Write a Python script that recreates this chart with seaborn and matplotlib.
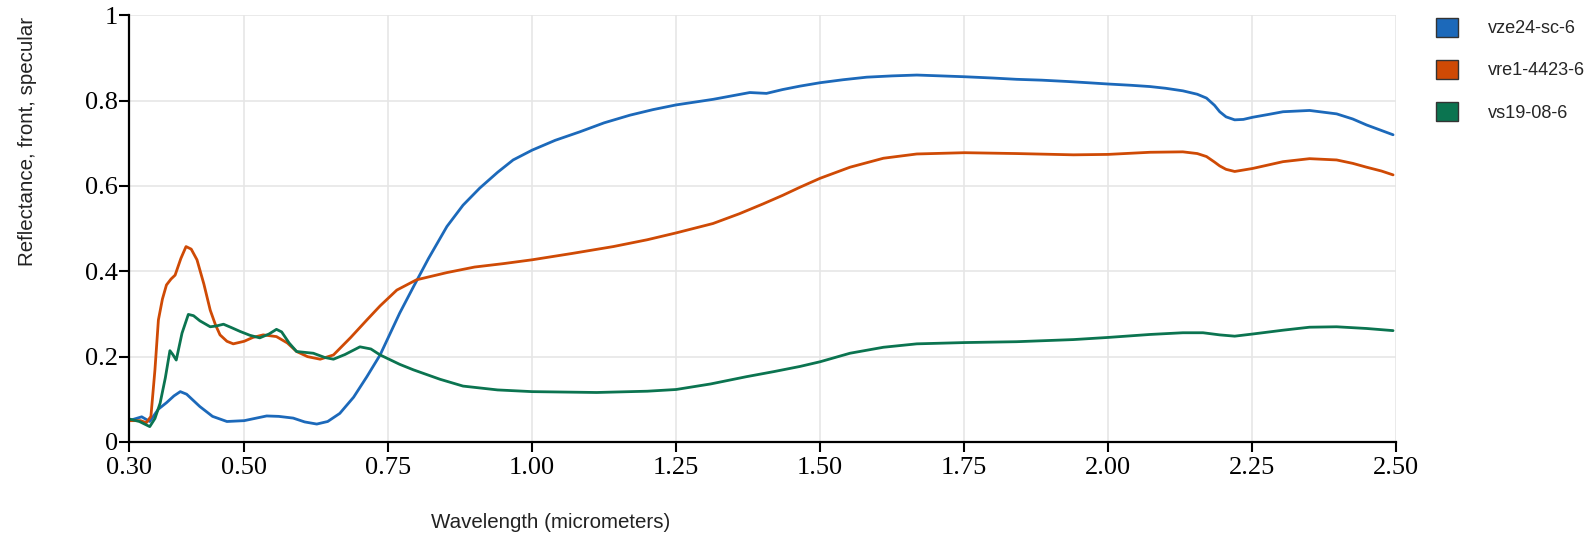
import pandas as pd
import matplotlib
matplotlib.use("Agg")
import matplotlib.pyplot as plt
from matplotlib.patches import Patch
import seaborn as sns

# Spectral reflectance curves
series_names = ["vze24-sc-6", "vre1-4423-6", "vs19-08-6"]
series_colors = ["#1c69ba", "#cf4a05", "#0b7450"]

wl_vze24 = [0.30, 0.322, 0.336, 0.351, 0.365, 0.378, 0.389, 0.40, 0.423, 0.445, 0.47, 0.50,
            0.539, 0.56, 0.585, 0.605, 0.626, 0.645, 0.666, 0.69, 0.713, 0.736, 0.77, 0.794,
            0.82, 0.852, 0.88, 0.909, 0.94, 0.967, 1.00, 1.04, 1.083, 1.125, 1.17, 1.21, 1.25,
            1.314, 1.378, 1.407, 1.435, 1.465, 1.50, 1.54, 1.581, 1.625, 1.668, 1.71, 1.751,
            1.80, 1.841, 1.885, 1.928, 1.965, 2.00, 2.04, 2.073, 2.10, 2.13, 2.155, 2.171,
            2.185, 2.194, 2.205, 2.22, 2.235, 2.251, 2.28, 2.304, 2.35, 2.397, 2.425, 2.449,
            2.475, 2.495]
refl_vze24 = [0.050, 0.059, 0.048, 0.077, 0.092, 0.108, 0.118, 0.112, 0.083, 0.060, 0.048, 0.050,
              0.061, 0.060, 0.056, 0.047, 0.042, 0.048, 0.067, 0.105, 0.153, 0.204, 0.302, 0.364,
              0.430, 0.505, 0.555, 0.595, 0.632, 0.661, 0.684, 0.707, 0.727, 0.748, 0.766, 0.779, 0.790,
              0.803, 0.819, 0.817, 0.826, 0.834, 0.842, 0.849, 0.855, 0.858, 0.860, 0.858, 0.856,
              0.853, 0.850, 0.848, 0.845, 0.842, 0.839, 0.836, 0.833, 0.829, 0.823, 0.815, 0.806,
              0.789, 0.774, 0.762, 0.755, 0.756, 0.761, 0.768, 0.774, 0.777, 0.769, 0.757, 0.743,
              0.730, 0.720]

wl_vre1 = [0.30, 0.32, 0.33, 0.338, 0.345, 0.351, 0.358, 0.365, 0.373, 0.38, 0.39, 0.399, 0.408,
           0.418, 0.43, 0.441, 0.45, 0.458, 0.47, 0.481, 0.50, 0.515, 0.533, 0.556, 0.575, 0.591,
           0.61, 0.632, 0.655, 0.685, 0.713, 0.736, 0.765, 0.799, 0.852, 0.90, 0.95, 1.00, 1.07,
           1.141, 1.20, 1.25, 1.314, 1.36, 1.401, 1.435, 1.465, 1.50, 1.552, 1.61, 1.668, 1.751,
           1.841, 1.94, 2.00, 2.073, 2.13, 2.155, 2.171, 2.185, 2.194, 2.205, 2.22, 2.251, 2.304,
           2.35, 2.397, 2.425, 2.449, 2.475, 2.495]
refl_vre1 = [0.050, 0.050, 0.045, 0.060, 0.169, 0.286, 0.335, 0.368, 0.382, 0.391, 0.430, 0.458, 0.452,
             0.427, 0.370, 0.309, 0.275, 0.251, 0.236, 0.230, 0.236, 0.245, 0.251, 0.247, 0.232, 0.212,
             0.200, 0.194, 0.204, 0.245, 0.286, 0.319, 0.356, 0.380, 0.397, 0.410, 0.418, 0.427, 0.442,
             0.458, 0.474, 0.490, 0.512, 0.535, 0.558, 0.578, 0.597, 0.618, 0.644, 0.665, 0.675, 0.678,
             0.676, 0.673, 0.674, 0.679, 0.680, 0.676, 0.669, 0.656, 0.647, 0.639, 0.634, 0.641, 0.657,
             0.664, 0.661, 0.653, 0.644, 0.635, 0.626]

wl_vs19 = [0.30, 0.318, 0.336, 0.345, 0.354, 0.363, 0.371, 0.376, 0.382, 0.392, 0.403, 0.412, 0.423,
           0.441, 0.452, 0.464, 0.478, 0.493, 0.51, 0.527, 0.543, 0.556, 0.565, 0.578, 0.591, 0.62,
           0.64, 0.655, 0.675, 0.701, 0.72, 0.736, 0.77, 0.794, 0.84, 0.88, 0.94, 1.00, 1.112, 1.20,
           1.25, 1.31, 1.372, 1.42, 1.465, 1.50, 1.552, 1.61, 1.668, 1.751, 1.841, 1.94, 2.00, 2.073,
           2.13, 2.165, 2.194, 2.22, 2.251, 2.304, 2.35, 2.397, 2.449, 2.495]
refl_vs19 = [0.054, 0.048, 0.036, 0.055, 0.091, 0.150, 0.214, 0.205, 0.192, 0.255, 0.299, 0.296, 0.284,
             0.270, 0.272, 0.276, 0.268, 0.259, 0.250, 0.244, 0.253, 0.264, 0.258, 0.232, 0.212, 0.208,
             0.198, 0.194, 0.205, 0.223, 0.218, 0.204, 0.182, 0.169, 0.147, 0.131, 0.122, 0.118, 0.116, 0.119,
             0.123, 0.136, 0.153, 0.165, 0.177, 0.188, 0.208, 0.222, 0.230, 0.233, 0.235, 0.240, 0.245, 0.252,
             0.256, 0.256, 0.251, 0.248, 0.253, 0.262, 0.269, 0.270, 0.266, 0.261]

x_ticks = [0.30, 0.50, 0.75, 1.00, 1.25, 1.50, 1.75, 2.00, 2.25, 2.50]
x_tick_labels = ["0.30", "0.50", "0.75", "1.00", "1.25", "1.50", "1.75", "2.00", "2.25", "2.50"]
y_ticks = [0, 0.2, 0.4, 0.6, 0.8, 1.0]
y_tick_labels = ["0", "0.2", "0.4", "0.6", "0.8", "1"]

df = pd.concat([
    pd.DataFrame({"wavelength": wl_vze24, "reflectance": refl_vze24, "sample": series_names[0]}),
    pd.DataFrame({"wavelength": wl_vre1, "reflectance": refl_vre1, "sample": series_names[1]}),
    pd.DataFrame({"wavelength": wl_vs19, "reflectance": refl_vs19, "sample": series_names[2]}),
])

sns.set_theme(style="white")
plt.rcParams["font.family"] = ["Liberation Sans", "DejaVu Sans"]

fig = plt.figure(figsize=(15.89, 5.39), dpi=100)
ax = fig.add_axes([0.0812, 0.18, 0.7973, 0.7916])

sns.lineplot(data=df, x="wavelength", y="reflectance", hue="sample",
             palette=dict(zip(series_names, series_colors)), estimator=None,
             sort=False, linewidth=2.0, legend=False, ax=ax)

ax.set_xlim(0.30, 2.50)
ax.set_ylim(0, 1)
ax.set_xticks(x_ticks)
ax.set_xticklabels(x_tick_labels)
ax.set_yticks(y_ticks)
ax.set_yticklabels(y_tick_labels)
for lbl in ax.get_xticklabels() + ax.get_yticklabels():
    lbl.set_fontfamily(["Liberation Serif", "DejaVu Serif"])
    lbl.set_fontsize(19)
    lbl.set_color("black")

ax.grid(True, color="#e6e6e6", linewidth=1.2)
ax.set_axisbelow(True)
for side in ["top", "right"]:
    ax.spines[side].set_visible(False)
for side in ["left", "bottom"]:
    ax.spines[side].set_color("black")
    ax.spines[side].set_linewidth(1.6)
ax.tick_params(axis="both", direction="out", length=7, width=1.5, color="black",
               bottom=True, left=True)
ax.tick_params(axis="x", pad=4)
ax.tick_params(axis="y", pad=1)

ax.set_xlabel("Wavelength (micrometers)", fontsize=14.8, color="#222222")
ax.set_ylabel("Reflectance, front, specular", fontsize=14.8, color="#222222")
ax.xaxis.set_label_coords(0.333, -0.166)
ax.yaxis.set_label_coords(-0.073, 0.704)

handles = [Patch(facecolor=c, edgecolor="#333333", linewidth=1.0) for c in series_colors]
fig.legend(handles, series_names, loc="upper left",
           bbox_to_anchor=(1436 / 1589, 1 - 18 / 539), frameon=False,
           fontsize=13.1, handlelength=1.2, handleheight=1.2, handletextpad=1.65,
           labelspacing=1.24, borderpad=0, borderaxespad=0)

fig.savefig("out.png", dpi=100)
